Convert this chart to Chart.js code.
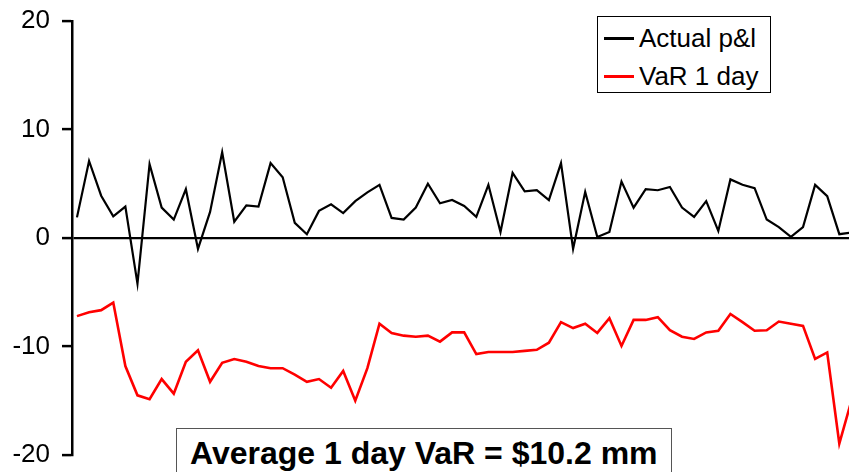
<!DOCTYPE html>
<html>
<head>
<meta charset="utf-8">
<script src="https://cdn.jsdelivr.net/npm/chart.js@4/dist/chart.umd.min.js"></script>
<style>
  html, body { margin: 0; padding: 0; background: #fff; }
  #wrap { position: relative; width: 849px; height: 472px; overflow: hidden; font-family: "Liberation Sans", Arial, sans-serif; }
  #chart { position: absolute; left: 0; top: 0; }
  .legend { position: absolute; left: 597px; top: 16px; width: 172px; height: 75px; border: 1.5px solid #000; background: #fff; }
  .legend .row { position: absolute; left: 0; height: 30px; font-size: 26px; line-height: 30px; color: #000; white-space: nowrap; }
  .legend .swatch { position: absolute; left: 6px; top: 14px; width: 30px; height: 3px; }
  .legend .label { position: absolute; left: 41px; top: 0; }
  .note { position: absolute; left: 176px; top: 428px; width: 494px; height: 60px; border: 1.5px solid #555; background: #fff; }
  .note span { position: absolute; left: 13px; top: 6px; font-size: 32px; font-weight: bold; color: #000; white-space: nowrap; line-height: 36px; }
</style>
</head>
<body>
<div id="wrap">
  <canvas id="chart" width="849" height="472"></canvas>
  <div class="legend">
    <div class="row" style="top:6px"><div class="swatch" style="background:#000"></div><div class="label">Actual p&amp;l</div></div>
    <div class="row" style="top:44px"><div class="swatch" style="background:#ff0000"></div><div class="label">VaR 1 day</div></div>
  </div>
  <div class="note"><span>Average 1 day VaR = $10.2 mm</span></div>
</div>
<script>
// Daily trading results and one-day value at risk, $ mm
const seriesNames = ['Actual p&l', 'VaR 1 day'];
const actualPnl = [
  1.9, 7.1, 3.9, 2.0, 2.9, -4.2, 6.8, 2.8, 1.7, 4.5,
  -1.0, 2.4, 7.9, 1.5, 3.0, 2.9, 6.9, 5.6, 1.4, 0.35,
  2.5, 3.1, 2.3, 3.4, 4.2, 4.9, 1.85, 1.7, 2.8, 5.0,
  3.2, 3.5, 2.95, 1.95, 4.9, 0.55, 6.0, 4.3, 4.4, 3.5,
  6.9, -1.0, 4.25, 0.1, 0.55, 5.2, 2.8, 4.5, 4.4, 4.7,
  2.8, 1.95, 3.4, 0.65, 5.4, 4.9, 4.6, 1.7, 1.0, 0.1,
  1.0, 4.9, 3.85, 0.35, 0.5
];
const var1Day = [
  -7.2, -6.85, -6.65, -5.95, -11.8, -14.5, -14.85, -13.0, -14.35, -11.4,
  -10.35, -13.25, -11.5, -11.15, -11.4, -11.8, -12.0, -12.0, -12.6, -13.25,
  -13.0, -13.8, -12.25, -15.0, -12.0, -7.9, -8.75, -9.0, -9.1, -9.0,
  -9.55, -8.7, -8.7, -10.7, -10.5, -10.5, -10.5, -10.4, -10.3, -9.65,
  -7.75, -8.3, -7.9, -8.75, -7.4, -9.95, -7.55, -7.55, -7.3, -8.5,
  -9.1, -9.3, -8.7, -8.55, -7.0, -7.75, -8.55, -8.5, -7.7, -7.9,
  -8.1, -11.15, -10.55, -18.95, -15.0
];
const yTicks = [-20, -10, 0, 10, 20];
const days = actualPnl.map((_, i) => i);

const toPoints = vals => vals.map((v, i) => ({ x: days[i], y: v }));
const FONT = '"Liberation Sans", Arial, sans-serif';

new Chart(document.getElementById('chart'), {
  type: 'line',
  data: {
    datasets: [
      { label: seriesNames[0], data: toPoints(actualPnl), borderColor: '#000', borderWidth: 2.2, pointRadius: 0, tension: 0 },
      { label: seriesNames[1], data: toPoints(var1Day), borderColor: '#ff0000', borderWidth: 2.6, pointRadius: 0, tension: 0 }
    ]
  },
  options: {
    responsive: false,
    animation: false,
    events: [],
    layout: { padding: { top: 21, bottom: 17, left: 0, right: 0 } },
    plugins: { legend: { display: false }, tooltip: { enabled: false } },
    scales: {
      x: {
        type: 'linear',
        display: false,
        min: -0.41,
        max: 63.8
      },
      y: {
        min: yTicks[0],
        max: yTicks[yTicks.length - 1],
        afterBuildTicks: s => { s.ticks = yTicks.map(v => ({ value: v })); },
        afterFit: s => { s.width = 72; s.paddingTop = 0; s.paddingBottom = 0; },
        border: { display: true, color: '#000', width: 2.5 },
        grid: {
          drawOnChartArea: true,
          color: c => (c.tick && c.tick.value === 0 ? '#000' : 'rgba(0,0,0,0)'),
          lineWidth: 2.2,
          drawTicks: true,
          tickLength: 10,
          tickColor: '#000',
          tickWidth: 2.5
        },
        ticks: {
          color: '#000',
          padding: 12,
          font: { family: FONT, size: 26 }
        }
      }
    }
  }
});
</script>
</body>
</html>
